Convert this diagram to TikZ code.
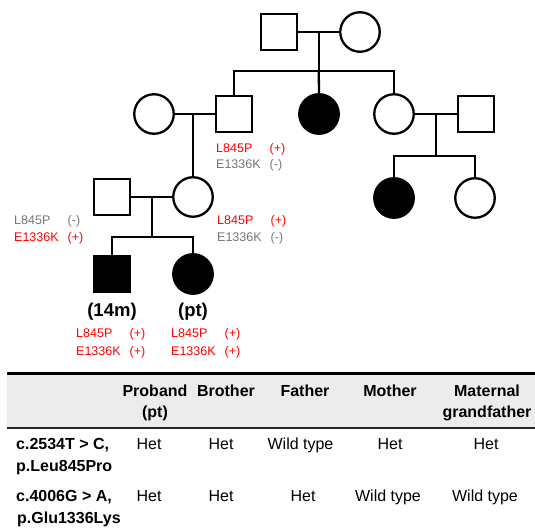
\documentclass[tikz,border=0pt]{standalone}
\usepackage{fontspec}
\setmainfont{Liberation Sans}
\usetikzlibrary{calc, positioning, shapes}
\definecolor{txtgray}{RGB}{118,118,118}
\definecolor{hdrgray}{RGB}{236,236,236}

\begin{document}
\begin{tikzpicture}[x=1pt, y=-1pt, on grid,
    male/.style={draw, rectangle, minimum size=36.5pt, inner sep=0pt, line width=2.3pt},
    female/.style={draw, circle, minimum size=39.5pt, inner sep=0pt, line width=2.3pt},
    ped/.style={line width=2.3pt},
    geno/.style={inner sep=0pt, anchor=west, align=left, font=\fontsize{12.5}{16.5}\selectfont},
    tag/.style={inner sep=0pt, font=\fontsize{18.5}{20}\selectfont\bfseries},
    cell/.style={inner sep=0pt, anchor=base, align=center, font=\fontsize{16}{21}\selectfont},
    hdr/.style={cell, font=\fontsize{16}{21}\selectfont\bfseries},
    rowlab/.style={cell, anchor=base west, align=left, font=\fontsize{16}{22}\selectfont\bfseries}]
        \useasboundingbox (0,0) rectangle (535,529);

        % pedigree
        \node[male] (ggf) at (279,32) {};
        \node[female, right=81pt of ggf] (ggm) {};

        \node[female] (mgm) at (154,114) {};
        \node[male, right=80pt of mgm] (mgf) {};
        \node[female, fill=black, right=85pt of mgf] (aunt) {};
        \node[female, right=75pt of aunt] (gaunt) {};
        \node[male, right=82pt of gaunt] (guncle) {};

        \node[male] (father) at (112,197) {};
        \node[female, right=81pt of father] (mother) {};
        \node[female, fill=black, below=84pt of gaunt] (cous1) {};
        \node[female, right=81pt of cous1] (cous2) {};

        \node[male, fill=black, below=77pt of father] (brother) {};
        \node[female, fill=black, below=77pt of mother] (proband) {};

        \node[tag, below=38pt of brother] (lbro) {(14m)};
        \node[tag, below=38pt of proband] (lpro) {(pt)};

        \draw[ped] (ggf) -- (ggm);
        \coordinate (c1) at ($(ggf.east)!0.5!(ggm.west)$);
        \draw[ped] (c1) -- ++(0,39) coordinate (s1);
        \draw[ped] (mgf.north) |- (s1) -| (gaunt.north);
        \draw[ped] (s1) -- (aunt.north);

        \draw[ped] (mgm) -- (mgf);
        \draw[ped] (mgm.east -| mother.north) -- (mother.north);

        \draw[ped] (gaunt) -- (guncle);
        \coordinate (c3) at ($(gaunt.east)!0.5!(guncle.west)$);
        \draw[ped] (c3) -- ++(0,42) coordinate (s3);
        \draw[ped] (cous1.north) |- (s3) -| (cous2.north);

        \draw[ped] (father) -- (mother);
        \coordinate (c2) at ($(father.east)!0.5!(mother.west)$);
        \draw[ped] (c2) -- ++(0,40) coordinate (s2);
        \draw[ped] (brother.north) |- (s2) -| (proband.north);

        % genotypes
        \node[geno] (gmgf) at (216,157.5) {\textcolor{red}{\makebox[53.5pt][l]{L845P}(+)}\\\textcolor{txtgray}{\makebox[53.5pt][l]{E1336K}(-)}};
        \node[geno] (gfather) at (14,230) {\textcolor{txtgray}{\makebox[53.5pt][l]{L845P}(-)}\\\textcolor{red}{\makebox[53.5pt][l]{E1336K}(+)}};
        \node[geno] (gmother) at (217,230) {\textcolor{red}{\makebox[53.5pt][l]{L845P}(+)}\\\textcolor{txtgray}{\makebox[53.5pt][l]{E1336K}(-)}};
        \node[geno, font=\fontsize{12.5}{18.5}\selectfont] (gbro) at (76,343.5) {\textcolor{red}{\makebox[53.5pt][l]{L845P}(+)}\\\textcolor{red}{\makebox[53.5pt][l]{E1336K}(+)}};
        \node[geno, font=\fontsize{12.5}{18.5}\selectfont] (gpro) at (171,343.5) {\textcolor{red}{\makebox[53.5pt][l]{L845P}(+)}\\\textcolor{red}{\makebox[53.5pt][l]{E1336K}(+)}};

        % table
        \fill[hdrgray] (7,373) rectangle (535,428);
        \draw[line width=3pt] (7,373) -- (535,373);
        \draw[line width=1.8pt, black!85] (7,428) -- (535,428);

        \node[hdr] (hpro) at (155,417) {Proband\\(pt)};
        \node[hdr] (hbro) at (226,396) {Brother};
        \node[hdr] (hfat) at (305,396) {Father};
        \node[hdr] (hmot) at (390,396) {Mother};
        \node[hdr] (hmgf) at (487,417) {Maternal\\grandfather};

        \node[rowlab] (r1) at (16,471) {c.2534T > C,\\p.Leu845Pro};
        \node[cell] (r1pro) at (149,449) {Het};
        \node[cell] (r1bro) at (221,449) {Het};
        \node[cell] (r1fat) at (300.5,449) {Wild type};
        \node[cell] (r1mot) at (390,449) {Het};
        \node[cell] (r1mgf) at (486,449) {Het};

        \node[rowlab] (r2) at (16,523) {c.4006G > A,\\\hspace{1pt}p.Glu1336Lys};
        \node[cell] (r2pro) at (149,501) {Het};
        \node[cell] (r2bro) at (221,501) {Het};
        \node[cell] (r2fat) at (303,501) {Het};
        \node[cell] (r2mot) at (388,501) {Wild type};
        \node[cell] (r2mgf) at (485,501) {Wild type};
    \end{tikzpicture}
\end{document}
